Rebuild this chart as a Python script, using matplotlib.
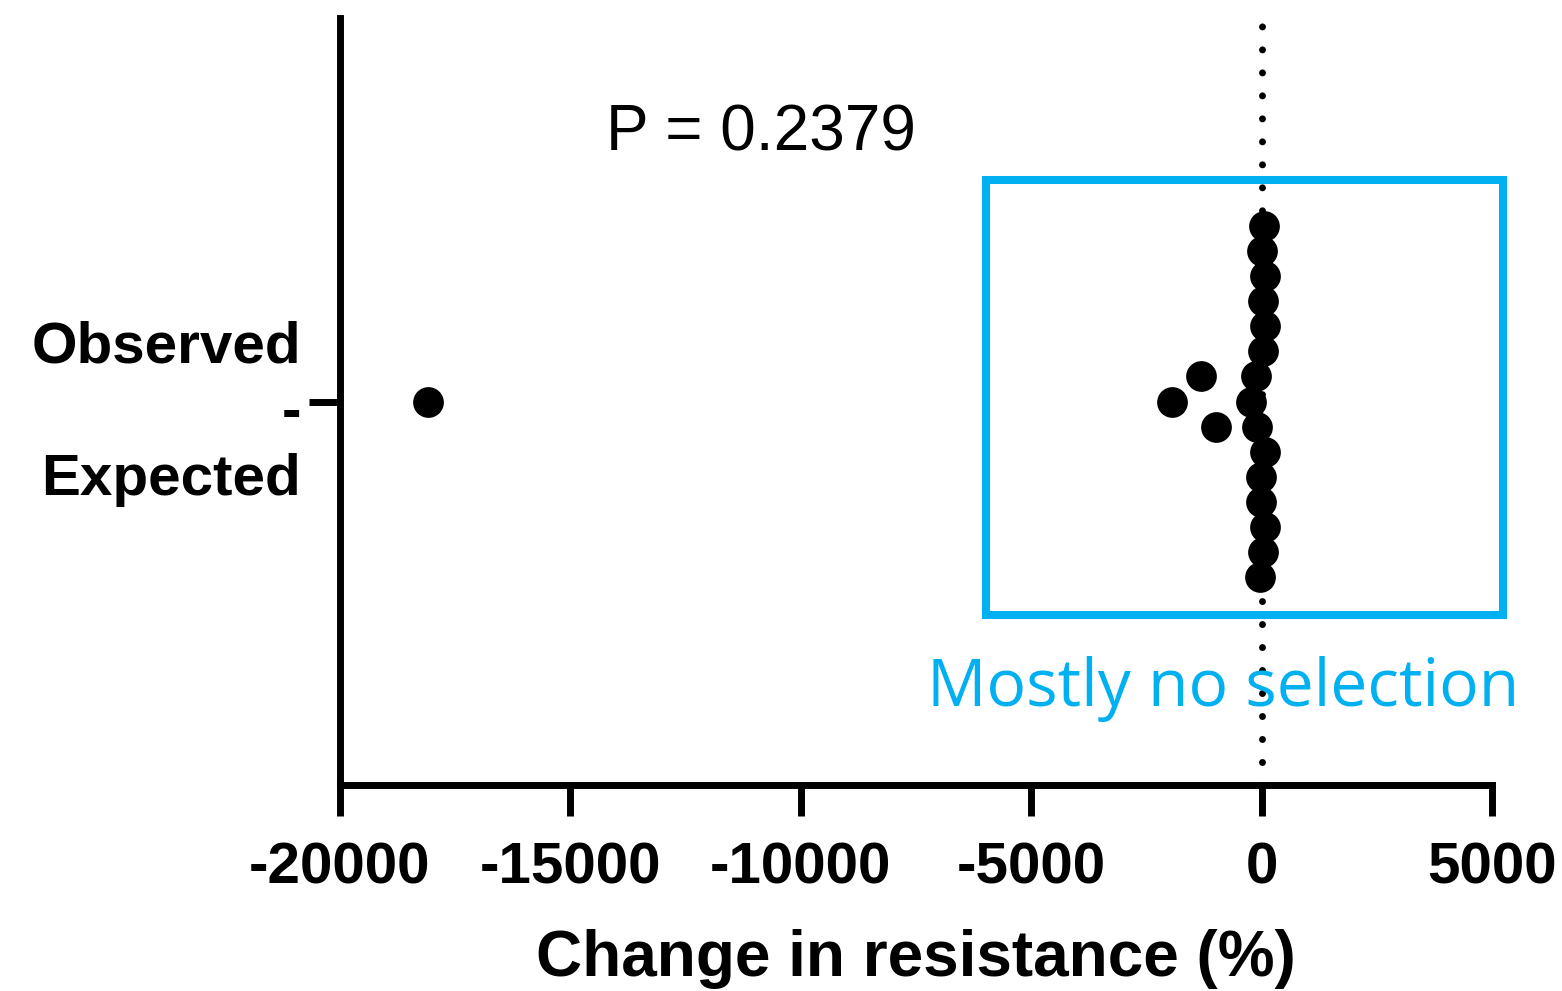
import matplotlib
matplotlib.use("Agg")
import matplotlib.pyplot as plt
from matplotlib.patches import Rectangle

plt.rcParams['font.family'] = ['Liberation Sans', 'DejaVu Sans']

# change in resistance (%) per pair, and its swarm row (0 = category line)
change = [52, 9, 74, 30, 74, 30, -122, -1315, -230, -1944, -18090,
          -100, -990, 74, -13, -13, 74, 30, -35]
swarm_row = [7, 6, 5, 4, 3, 2, 1, 1, 0, 0, 0,
             -1, -1, -2, -3, -4, -5, -6, -7]

xticks = [-20000, -15000, -10000, -5000, 0, 5000]
p_text = "P = 0.2379"
box_label = "Mostly no selection"
blue = "#00B0F0"

fig = plt.figure(figsize=(15.62, 9.91), dpi=100)
ax = fig.add_axes([340 / 1562, 1 - 785 / 991, 1152 / 1562, 767 / 991])

row_step = 0.0652
ys = [r * row_step for r in swarm_row]

ax.axvline(0, color='black', lw=5, linestyle=(0, (0.01, 3.3)),
           dash_capstyle='round', zorder=1)
ax.scatter(change, ys, s=490, color='black', zorder=3, linewidths=0)

ax.add_patch(Rectangle((-5981, -0.557), 5981 + 5239, 0.557 + 0.578,
                       fill=False, edgecolor=blue, lw=5.8, clip_on=False,
                       zorder=2))
ax.text(-838, -0.75, box_label, color=blue, fontsize=47.5,
        family=['Open Sans', 'DejaVu Sans'], ha='center', va='center')
ax.text(-10864, 0.70, p_text, fontsize=46, ha='center', va='center')

ax.set_xlim(-20000, 5000)
ax.set_ylim(-1, 1)
ax.set_xticks(xticks)
ax.set_xticklabels([str(t) for t in xticks], fontsize=42, fontweight='bold')
ax.set_yticks([0])
ax.set_yticklabels(['Observed\n-\nExpected'], fontsize=42, fontweight='bold',
                   linespacing=1.3, multialignment='right')

ax.spines['top'].set_visible(False)
ax.spines['right'].set_visible(False)
for s in ('left', 'bottom'):
    ax.spines[s].set_linewidth(5)
ax.tick_params(axis='both', width=5, length=22)
ax.tick_params(axis='x', pad=19)
ax.tick_params(axis='y', pad=6)

ax.set_xlabel("Change in resistance (%)", fontsize=46, fontweight='bold',
              labelpad=24)

fig.savefig("out.png", dpi=100)
